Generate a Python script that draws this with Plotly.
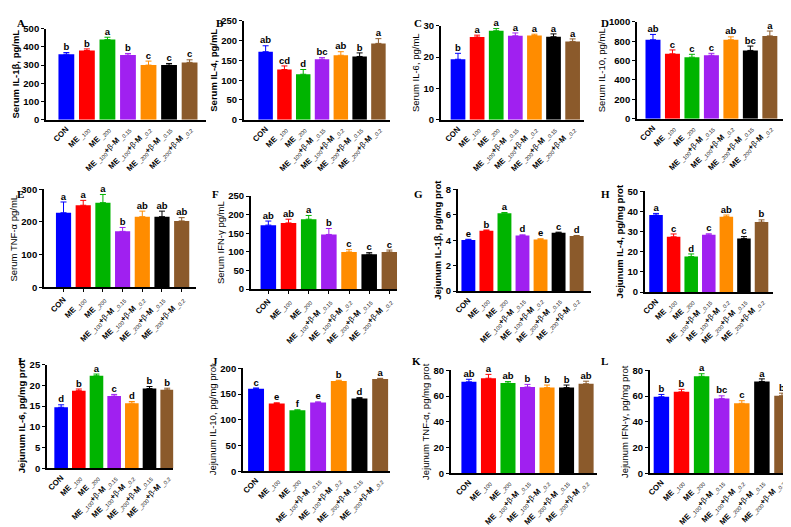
import plotly.graph_objects as go

W, H = 791, 527

tick_labels = [
    "<b>CON</b>",
    "<b>ME</b><sub> _100</sub>",
    "<b>ME</b><sub> _200</sub>",
    "<b>ME</b><sub> _100</sub><b>+</b>β-<b>M</b><sub> _0.15</sub>",
    "<b>ME</b><sub> _100</sub><b>+</b>β-<b>M</b><sub> _0.2</sub>",
    "<b>ME</b><sub> _200</sub><b>+</b>β-<b>M</b><sub> _0.15</sub>",
    "<b>ME</b><sub> _200</sub><b>+</b>β-<b>M</b><sub> _0.2</sub>",
]
bar_colors = ["#0000FF", "#FF0000", "#00B400", "#A020F0", "#FF8C00", "#000000", "#8B5A2B"]

serum_il1b = [360, 380, 440, 355, 300, 300, 315]
serum_il1b_err = [9, 9, 13, 9, 22, 9, 14]
serum_il1b_sig = ["b", "b", "a", "b", "c", "c", "c"]

serum_il4 = [172, 127, 115, 153, 163, 160, 193]
serum_il4_err = [15, 9, 12, 4, 9, 9, 12]
serum_il4_sig = ["ab", "cd", "d", "bc", "ab", "b", "a"]

serum_il6 = [19.3, 26.4, 28.4, 26.8, 26.9, 26.5, 25.0]
serum_il6_err = [1.9, 0.6, 0.7, 0.9, 0.4, 0.9, 0.8]
serum_il6_sig = ["b", "a", "a", "a", "a", "a", "a"]

serum_il10 = [815, 670, 635, 655, 815, 705, 855]
serum_il10_err = [55, 40, 30, 20, 30, 45, 50]
serum_il10_sig = ["ab", "c", "c", "c", "ab", "bc", "a"]

serum_tnf = [228, 251, 259, 171, 216, 216, 203]
serum_tnf_err = [33, 15, 25, 12, 17, 17, 10]
serum_tnf_sig = ["a", "a", "a", "b", "ab", "ab", "ab"]

serum_ifn = [172, 178, 188, 147, 100, 94, 100]
serum_ifn_err = [11, 10, 10, 16, 6, 4, 5]
serum_ifn_sig = ["ab", "ab", "a", "b", "c", "c", "c"]

jej_il1b = [4.02, 4.75, 6.12, 4.37, 4.06, 4.58, 4.32]
jej_il1b_err = [0.05, 0.05, 0.05, 0.05, 0.05, 0.05, 0.05]
jej_il1b_sig = ["e", "b", "a", "d", "e", "c", "d"]

jej_il4 = [38.2, 27.4, 17.6, 28.4, 37.4, 26.5, 34.7]
jej_il4_err = [0.8, 1.4, 1.3, 0.5, 0.8, 1.0, 1.1]
jej_il4_sig = ["a", "c", "d", "c", "ab", "c", "b"]

jej_il6 = [14.7, 18.7, 22.3, 17.4, 15.7, 19.2, 18.9]
jej_il6_err = [0.6, 0.4, 0.4, 0.4, 0.4, 0.5, 0.4]
jej_il6_sig = ["d", "b", "a", "c", "d", "b", "b"]

jej_il10 = [160.5, 131.7, 118.5, 133.5, 175.5, 141.7, 179.3]
jej_il10_err = [1.5, 1.5, 1.0, 1.5, 1.5, 1.5, 1.5]
jej_il10_sig = ["c", "e", "f", "e", "b", "d", "a"]

jej_tnf = [71.1, 73.9, 70.1, 67.1, 66.6, 66.6, 69.6]
jej_tnf_err = [2, 3, 1.2, 2, 2, 2, 2]
jej_tnf_sig = ["ab", "a", "ab", "b", "b", "b", "ab"]

jej_ifn = [59.5, 63.3, 75.4, 58.2, 54.4, 71.4, 60.3]
jej_ifn_err = [1.8, 2, 2, 2, 2, 2, 2]
jej_ifn_sig = ["b", "b", "a", "bc", "c", "a", "b"]

# panel: letter, title, bold, values, errors, sig, ymax, dtick, geometry(px), xrange, xticks
panels = [
    ("A", "Serum IL-1β, pg/mL", True, serum_il1b, serum_il1b_err, serum_il1b_sig, 500, 100, (34, 195, 15, 108), (-1.0, 6.8), False),
    ("B", "Serum IL-4, pg/mL", True, serum_il4, serum_il4_err, serum_il4_sig, 250, 50, (233, 380, 7, 108), (-1.16, 6.62), False),
    ("C", "Serum IL-6, pg/mL", False, serum_il6, serum_il6_err, serum_il6_sig, 30, 10, (431, 575, 12, 108), (-0.9, 6.6), False),
    ("D", "Serum IL-10, pg/mL", False, serum_il10, serum_il10_err, serum_il10_sig, 1000, 200, (628, 775, 8, 107), (-0.83, 6.68), False),
    ("E", "Serum TNF-α pg/mL", False, serum_tnf, serum_tnf_err, serum_tnf_sig, 300, 100, (32, 185, 179, 279), (-1.0, 6.73), True),
    ("F", "Serum IFN-γ pg/mL", False, serum_ifn, serum_ifn_err, serum_ifn_sig, 250, 50, (240, 387, 186, 281), (-0.87, 6.38), True),
    ("G", "Jejunum IL-1β, pg/mg prot", True, jej_il1b, jej_il1b_err, jej_il1b_sig, 8, 2, (448, 582, 179, 283), (-0.59, 6.8), False),
    ("H", "Jejunum IL-4, pg/mg prot", True, jej_il4, jej_il4_err, jej_il4_sig, 50, 10, (636, 765, 181, 284), (-0.64, 6.66), False),
    ("I", "Jejunum IL-6, pg/mg prot", True, jej_il6, jej_il6_err, jej_il6_sig, 25, 5, (35, 162, 358, 464), (-0.81, 6.34), False),
    ("J", "Jejunum IL-10, pg/mg prot", False, jej_il10, jej_il10_err, jej_il10_sig, 200, 50, (232, 380, 362, 467), (-0.64, 6.48), False),
    ("K", "Jejunum TNF-α, pg/mg prot", False, jej_tnf, jej_tnf_err, jej_tnf_sig, 80, 20, (441, 588, 364, 469), (-0.93, 6.56), False),
    ("L", "Jejunum IFN-γ, pg/mg prot", False, jej_ifn, jej_ifn_err, jej_ifn_sig, 80, 20, (641, 784, 364, 469), (-0.58, 6.5), False),
]

letter_pos = [(3, 1), (203, 1), (402, 1), (590, 1), (3, 176), (199, 176), (402, 176), (590, 176),
              (4, 346), (199, 346), (400, 346), (590, 346)]

FONT = "Liberation Sans, Arial, sans-serif"
fig = go.Figure()
layout = dict(
    width=W, height=H, margin=dict(l=0, r=0, t=0, b=0),
    paper_bgcolor="white", plot_bgcolor="white", showlegend=False,
    barmode="overlay", font=dict(family=FONT, color="black"),
)
annotations = []
xs = list(range(7))

for k, (letter, title, bold, vals, errs, sig, ymax, dtick, geo, xr, xticks) in enumerate(panels):
    n = k + 1
    xa = "x" if n == 1 else f"x{n}"
    ya = "y" if n == 1 else f"y{n}"
    left, right, top, bot = geo
    for i in xs:
        fig.add_trace(go.Bar(
            x=[i], y=[vals[i]], width=0.77, xaxis=xa, yaxis=ya,
            marker=dict(color=bar_colors[i], line=dict(width=0)),
            error_y=dict(type="data", array=[errs[i]], arrayminus=[0], symmetric=False,
                         color=bar_colors[i], thickness=1, width=3),
        ))
    fig.add_trace(go.Scatter(
        x=xs, y=[v + e for v, e in zip(vals, errs)], text=sig, mode="text",
        textposition="top center", xaxis=xa, yaxis=ya, cliponaxis=False,
        textfont=dict(family=FONT, size=9.5, color="black", weight="bold"),
    ))
    layout["xaxis" if n == 1 else f"xaxis{n}"] = dict(
        domain=[left / W, right / W], range=list(xr), anchor=ya,
        tickmode="array", tickvals=xs, ticktext=tick_labels, tickangle=-45,
        tickfont=dict(family=FONT, size=7.9, color="black"),
        showline=True, linecolor="black", linewidth=1.5, showgrid=False, zeroline=False,
        ticks="outside" if xticks else "", ticklen=3, tickwidth=1, tickcolor="black",
    )
    layout["yaxis" if n == 1 else f"yaxis{n}"] = dict(
        domain=[1 - bot / H, 1 - top / H], range=[0, ymax], dtick=dtick, anchor=xa,
        showline=True, linecolor="black", linewidth=1.5, showgrid=False, zeroline=False,
        ticks="outside", ticklen=3, tickwidth=1.2, tickcolor="black",
        tickfont=dict(family=FONT, size=9.5, color="black", weight="bold"),
        title=dict(text=title, standoff=2,
                   font=dict(family=FONT, size=9.5, color="black", weight="bold" if bold else "normal")),
    )
    lx, ly = letter_pos[k]
    annotations.append(dict(
        text=f"<b>{letter}</b>", x=lx / W, y=1 - ly / H, xref="paper", yref="paper",
        xanchor="left", yanchor="top", showarrow=False,
        font=dict(family="Liberation Serif, Times New Roman, serif", size=11, color="black"),
    ))

layout["annotations"] = annotations
fig.update_layout(**layout)
fig.write_html("out.html")
